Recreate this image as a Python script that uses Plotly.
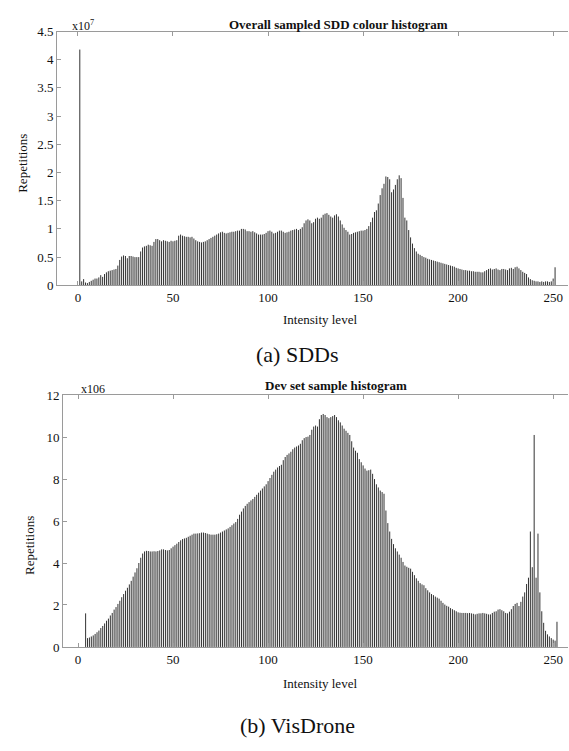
import plotly.graph_objects as go

# ---------------- data ----------------
# (a) SDDs: repetitions (x1e7) per intensity level, starting at level 1
sdd_start = 1
sdd_values = [
    4.18, 0.07, 0.11, 0.05, 0.04, 0.06, 0.08, 0.10, 0.12, 0.12,   # 1-10
    0.14, 0.18, 0.15, 0.20, 0.23, 0.25, 0.26, 0.27, 0.28, 0.29,   # 11-20
    0.35, 0.45, 0.51, 0.53, 0.52, 0.48, 0.52, 0.52, 0.51, 0.50,   # 21-30
    0.50, 0.50, 0.60, 0.67, 0.69, 0.70, 0.72, 0.71, 0.70, 0.77,   # 31-40
    0.82, 0.82, 0.80, 0.78, 0.80, 0.79, 0.78, 0.77, 0.79, 0.78,   # 41-50
    0.79, 0.80, 0.88, 0.90, 0.88, 0.87, 0.86, 0.86, 0.85, 0.86,   # 51-60
    0.83, 0.80, 0.78, 0.77, 0.76, 0.77, 0.78, 0.80, 0.82, 0.84,   # 61-70
    0.86, 0.88, 0.90, 0.92, 0.94, 0.95, 0.93, 0.92, 0.93, 0.94,   # 71-80
    0.95, 0.95, 0.96, 0.97, 0.97, 1.00, 1.00, 0.99, 0.96, 0.96,   # 81-90
    0.95, 0.96, 0.94, 0.92, 0.90, 0.90, 0.90, 0.91, 0.93, 0.96,   # 91-100
    0.97, 0.95, 0.92, 0.93, 0.95, 0.97, 0.97, 0.95, 0.93, 0.94,   # 101-110
    0.95, 0.97, 0.98, 0.99, 1.00, 0.98, 1.00, 1.03, 1.10, 1.15,   # 111-120
    1.17, 1.15, 1.10, 1.12, 1.18, 1.20, 1.18, 1.20, 1.25, 1.27,   # 121-130
    1.28, 1.25, 1.22, 1.20, 1.24, 1.26, 1.22, 1.15, 1.08, 1.02,   # 131-140
    0.98, 0.95, 0.90, 0.91, 0.93, 0.94, 0.95, 0.96, 0.97, 0.97,   # 141-150
    0.98, 1.00, 1.05, 1.12, 1.20, 1.30, 1.33, 1.45, 1.60, 1.72,   # 151-160
    1.80, 1.93, 1.92, 1.88, 1.65, 1.70, 1.78, 1.88, 1.95, 1.90,   # 161-170
    1.55, 1.20, 1.15, 0.98, 0.85, 0.74, 0.66, 0.60, 0.56, 0.54,   # 171-180
    0.52, 0.50, 0.49, 0.47, 0.46, 0.45, 0.44, 0.43, 0.42, 0.41,   # 181-190
    0.40, 0.39, 0.38, 0.37, 0.36, 0.35, 0.34, 0.33, 0.31, 0.30,   # 191-200
    0.29, 0.28, 0.27, 0.27, 0.26, 0.26, 0.25, 0.25, 0.24, 0.24,   # 201-210
    0.24, 0.23, 0.23, 0.25, 0.27, 0.29, 0.30, 0.28, 0.29, 0.30,   # 211-220
    0.28, 0.27, 0.29, 0.29, 0.28, 0.27, 0.30, 0.31, 0.29, 0.32,   # 221-230
    0.33, 0.30, 0.27, 0.24, 0.22, 0.20, 0.14, 0.11, 0.09, 0.08,   # 231-240
    0.07, 0.07, 0.06, 0.07, 0.06, 0.07, 0.07, 0.06, 0.07, 0.12,   # 241-250
    0.32,                                                         # 251
]
sdd_levels = list(range(sdd_start, sdd_start + len(sdd_values)))

# (b) VisDrone: repetitions (x1e6) per intensity level, starting at level 4
vis_start = 4
vis_values = [
    1.60, 0.42, 0.45, 0.50, 0.55, 0.62, 0.70,                     # 4-10
    0.78, 0.90, 1.00, 1.12, 1.25, 1.35, 1.50, 1.62, 1.78, 1.90,   # 11-20
    2.05, 2.20, 2.37, 2.52, 2.68, 2.82, 2.98, 3.15, 3.35, 3.55,   # 21-30
    3.75, 4.00, 4.25, 4.45, 4.55, 4.58, 4.57, 4.55, 4.55, 4.56,   # 31-40
    4.55, 4.57, 4.60, 4.65, 4.65, 4.62, 4.60, 4.62, 4.70, 4.78,   # 41-50
    4.85, 4.92, 5.00, 5.08, 5.14, 5.17, 5.20, 5.25, 5.30, 5.35,   # 51-60
    5.40, 5.40, 5.41, 5.42, 5.45, 5.45, 5.43, 5.40, 5.37, 5.35,   # 61-70
    5.35, 5.35, 5.37, 5.40, 5.45, 5.50, 5.55, 5.60, 5.65, 5.72,   # 71-80
    5.80, 5.88, 5.95, 6.10, 6.30, 6.45, 6.60, 6.72, 6.82, 6.90,   # 81-90
    6.98, 7.05, 7.15, 7.25, 7.35, 7.45, 7.55, 7.65, 7.75, 7.90,   # 91-100
    8.05, 8.20, 8.35, 8.45, 8.55, 8.62, 8.68, 8.90, 9.05, 9.15,   # 101-110
    9.22, 9.30, 9.42, 9.50, 9.55, 9.60, 9.68, 9.85, 9.95, 10.00,  # 111-120
    10.02, 10.10, 10.35, 10.50, 10.55, 10.50, 10.85, 11.05, 11.10, 11.05,  # 121-130
    10.95, 10.90, 10.95, 11.00, 11.05, 10.95, 10.80, 10.70, 10.55, 10.40,  # 131-140
    10.30, 10.20, 10.10, 9.80, 9.50, 9.35, 9.25, 8.95, 8.80, 8.65,         # 141-150
    8.50, 8.40, 8.42, 8.45, 8.25, 8.00, 7.75, 7.60, 7.45, 7.38,   # 151-160
    7.30, 6.50, 5.90, 5.50, 5.15, 4.90, 4.70, 4.55, 4.40, 4.25,   # 161-170
    4.05, 3.88, 3.82, 3.77, 3.73, 3.58, 3.42, 3.27, 3.15, 3.04,   # 171-180
    2.98, 2.94, 2.80, 2.70, 2.60, 2.52, 2.47, 2.40, 2.35, 2.30,   # 181-190
    2.20, 2.10, 2.02, 1.96, 1.92, 1.85, 1.80, 1.75, 1.70, 1.65,   # 191-200
    1.63, 1.62, 1.62, 1.62, 1.61, 1.62, 1.60, 1.58, 1.55, 1.58,   # 201-210
    1.60, 1.60, 1.62, 1.60, 1.58, 1.55, 1.55, 1.62, 1.68, 1.70,   # 211-220
    1.78, 1.80, 1.75, 1.70, 1.62, 1.60, 1.68, 1.80, 1.95, 2.05,   # 221-230
    2.10, 1.95, 2.15, 2.40, 2.60, 3.00, 3.30, 5.50, 3.80, 10.10,  # 231-240
    3.30, 5.40, 2.60, 1.70, 1.15, 0.77, 0.60, 0.50, 0.42, 0.35,   # 241-250
    0.30, 1.20,                                                   # 251-252
]
vis_levels = list(range(vis_start, vis_start + len(vis_values)))

x_tick_vals = [0, 50, 100, 150, 200, 250]
sdd_y_ticks = [0, 0.5, 1, 1.5, 2, 2.5, 3, 3.5, 4, 4.5]
sdd_y_text = ["0", "0.5", "1", "1.5", "2", "2.5", "3", "3.5", "4", "4.5"]
vis_y_ticks = [0, 2, 4, 6, 8, 10, 12]

titles = ["Overall sampled SDD colour histogram", "Dev set sample histogram"]
captions = ["(a) SDDs", "(b) VisDrone"]
exponents = ["x10<sup>7</sup>", "x106"]
x_title = "Intensity level"
y_title = "Repetitions"

# ---------------- figure ----------------
W, H = 569, 751
SERIF = "Liberation Serif, DejaVu Serif, serif"
AX = "#9a9a9a"
BAR = "#333333"


def stems(xs, ys):
    """vertical stems (one thin bar per level) built from the data arrays"""
    sx, sy = [], []
    for xv, yv in zip(xs, ys):
        sx += [xv, xv, None]
        sy += [0, yv, None]
    return sx, sy


fig = go.Figure()
sx, sy = stems(sdd_levels, sdd_values)
fig.add_trace(go.Scatter(x=sx, y=sy, mode="lines",
                         line=dict(color=BAR, width=1),
                         xaxis="x", yaxis="y", showlegend=False,
                         hoverinfo="skip"))
sx, sy = stems(vis_levels, vis_values)
fig.add_trace(go.Scatter(x=sx, y=sy, mode="lines",
                         line=dict(color=BAR, width=1),
                         xaxis="x2", yaxis="y2", showlegend=False,
                         hoverinfo="skip"))


def px_x(p):
    return p / W


def px_y(p):
    return 1 - p / H


common_x = dict(
    tickvals=x_tick_vals, ticks="inside", ticklen=4, tickcolor=AX,
    showline=True, linecolor=AX, linewidth=1, mirror="ticks",
    showgrid=False, zeroline=False,
    tickfont=dict(family=SERIF, size=13, color="#111"),
)
common_y = dict(
    ticks="inside", ticklen=4, tickcolor=AX,
    showline=True, linecolor=AX, linewidth=1, mirror=False,
    showgrid=False, zeroline=False,
    tickfont=dict(family=SERIF, size=13, color="#111"),
)

fig.update_layout(
    width=W, height=H,
    margin=dict(l=0, r=0, t=0, b=0),
    paper_bgcolor="white", plot_bgcolor="white",
    xaxis=dict(domain=[px_x(57), px_x(568)], range=[-11.0, 257.8],
               anchor="y", **common_x),
    yaxis=dict(domain=[px_y(284), px_y(25)], range=[0, 4.5],
               tickvals=sdd_y_ticks, ticktext=sdd_y_text,
               anchor="x", **common_y),
    xaxis2=dict(domain=[px_x(63), px_x(568)], range=[-7.9, 257.8],
                anchor="y2", **common_x),
    yaxis2=dict(domain=[px_y(653), px_y(396)], range=[0, 12],
                tickvals=vis_y_ticks,
                anchor="x2", **common_y),
)

ann = []
ann.append(dict(text="<b>" + titles[0] + "</b>", x=px_x(338), y=px_y(18),
                font=dict(family=SERIF, size=13, color="#111")))
ann.append(dict(text="<b>" + titles[1] + "</b>", x=px_x(336), y=px_y(386),
                font=dict(family=SERIF, size=13, color="#111")))
ann.append(dict(text=exponents[0], x=px_x(83), y=px_y(19),
                font=dict(family=SERIF, size=12, color="#111")))
ann.append(dict(text=exponents[1], x=px_x(93), y=px_y(390),
                font=dict(family=SERIF, size=12, color="#111")))
for yy in (319, 690):
    ann.append(dict(text=x_title, x=px_x(320), y=px_y(yy),
                    font=dict(family=SERIF, size=13, color="#111")))
ann.append(dict(text=y_title, x=px_x(23), y=px_y(160), textangle=-90,
                font=dict(family=SERIF, size=13, color="#111")))
ann.append(dict(text=y_title, x=px_x(29), y=px_y(550), textangle=-90,
                font=dict(family=SERIF, size=13, color="#111")))
ann.append(dict(text=captions[0], x=px_x(297), y=px_y(355),
                font=dict(family=SERIF, size=22, color="#111")))
ann.append(dict(text=captions[1], x=px_x(297), y=px_y(733),
                font=dict(family=SERIF, size=22, color="#111")))

for a in ann:
    a.update(xref="paper", yref="paper", showarrow=False,
             xanchor="center", yanchor="middle")
fig.update_layout(annotations=ann)

fig.write_html(
    "out.html",
    config={"displayModeBar": False},
    post_script="document.body.style.margin='0';"
                "document.body.style.overflow='hidden';",
)
